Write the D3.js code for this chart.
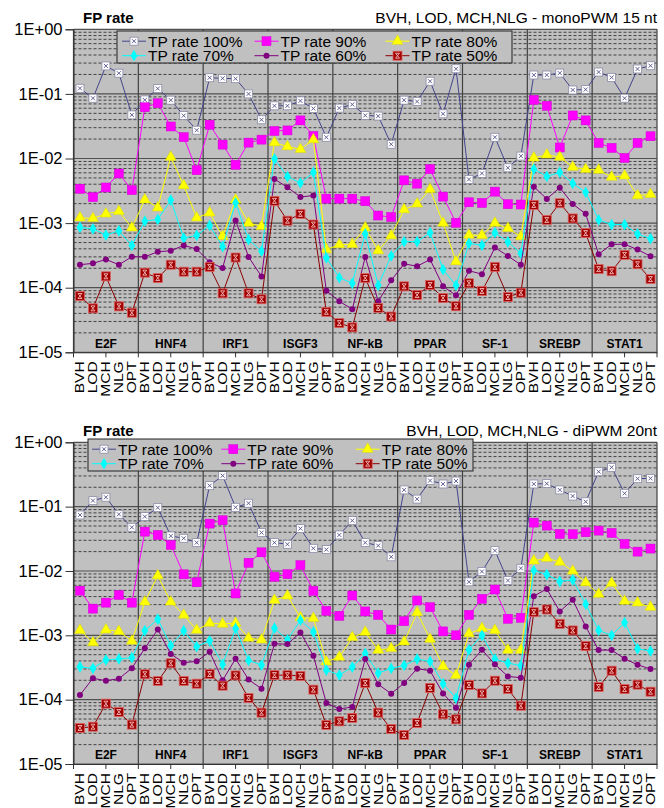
<!DOCTYPE html>
<html>
<head>
<meta charset="utf-8">
<script src="https://cdn.jsdelivr.net/npm/d3@7/dist/d3.min.js"></script>
<style>
body { margin: 0; background: #fff; }
text { font-family: "Liberation Sans", Arial, sans-serif; }
</style>
</head>
<body>
<div id="chart"></div>
<script>
// categories
const groups = ["E2F", "HNF4", "IRF1", "ISGF3", "NF-kB", "PPAR", "SF-1", "SREBP", "STAT1"];
const methods = ["BVH", "LOD", "MCH", "NLG", "OPT"];
const seriesNames = ["TP rate 100%", "TP rate 90%", "TP rate 80%", "TP rate 70%", "TP rate 60%", "TP rate 50%"];
const yTicks = [1, 1e-1, 1e-2, 1e-3, 1e-4, 1e-5];
const yTickLabels = ["1E+00", "1E-01", "1E-02", "1E-03", "1E-04", "1E-05"];
const titles = ["BVH, LOD, MCH,NLG - monoPWM 15 nt", "BVH, LOD, MCH,NLG - diPWM 20nt"];

// monoPWM 15 nt (top chart), 45 values per series (9 groups x 5 methods)
const mono100 = [0.122, 0.0857, 0.271, 0.209, 0.0473, 0.0807, 0.121, 0.080, 0.0462, 0.0274,
  0.178, 0.174, 0.172, 0.100, 0.0398, 0.0654, 0.0654, 0.078, 0.0594, 0.0213,
  0.0602, 0.0686, 0.0464, 0.0454, 0.0166, 0.080, 0.0762, 0.157, 0.0492, 0.245,
  0.00475, 0.00588, 0.0213, 0.00718, 0.0109, 0.196, 0.196, 0.210, 0.115, 0.117,
  0.218, 0.180, 0.0858, 0.243, 0.273];
const mono90 = [0.0034, 0.00252, 0.00356, 0.00586, 0.00324, 0.0622, 0.0717, 0.0313, 0.0214, 0.0066,
  0.0333, 0.0164, 0.008, 0.0176, 0.0196, 0.0267, 0.0272, 0.0389, 0.0223, 0.00239,
  0.00239, 0.00239, 0.00218, 0.00131, 0.00124, 0.00459, 0.00408, 0.00686, 0.00257, 0.00101,
  0.0021, 0.00205, 0.00307, 0.00196, 0.00194, 0.081, 0.0654, 0.0148, 0.0464, 0.0389,
  0.0174, 0.0146, 0.0102, 0.0174, 0.0221];
const mono80 = [0.00121, 0.00118, 0.00139, 0.00152, 0.000847, 0.0023, 0.00173, 0.0105, 0.00382, 0.00121,
  0.00144, 0.000624, 0.00229, 0.001, 0.00089, 0.0176, 0.0153, 0.0139, 0.0196, 0.000389,
  0.000464, 0.00047, 0.000848, 0.000375, 0.000638, 0.00162, 0.00198, 0.00334, 0.001, 0.000254,
  0.000654, 0.000645, 0.001, 0.000828, 0.000616, 0.0102, 0.0114, 0.0105, 0.00736, 0.00678,
  0.00662, 0.00516, 0.0054, 0.00267, 0.00279];
const mono70 = [0.000857, 0.000817, 0.000652, 0.00076, 0.000452, 0.00107, 0.00114, 0.00227, 0.000586, 0.000645,
  0.00092, 0.000432, 0.00206, 0.000554, 0.000367, 0.0099, 0.00522, 0.00418, 0.0061, 0.00029,
  0.000143, 0.000117, 0.000686, 0.000109, 0.00031, 0.000516, 0.000516, 0.00071, 0.000191, 0.000109,
  0.000487, 0.000453, 0.00071, 0.00051, 0.000341, 0.00686, 0.00528, 0.0061, 0.00412, 0.003,
  0.00112, 0.00095, 0.00095, 0.000678, 0.000574];
const mono60 = [0.000227, 0.000238, 0.000274, 0.000227, 0.000301, 0.000301, 0.00036, 0.000373, 0.000452, 0.000396,
  0.000248, 0.000201, 0.0011, 0.0003, 0.000149, 0.00481, 0.00358, 0.00254, 0.00267, 0.00009,
  0.0000616, 0.0000464, 0.0003, 0.0000616, 0.00013, 0.000234, 0.000215, 0.000273, 0.000105, 0.0000762,
  0.000183, 0.000162, 0.000418, 0.00031, 0.000226, 0.00366, 0.00237, 0.00354, 0.00198, 0.00139,
  0.00033, 0.00047, 0.00047, 0.000389, 0.000307];
const mono50 = [0.0000743, 0.0000479, 0.00015, 0.0000514, 0.000041, 0.000171, 0.000141, 0.000227, 0.000177, 0.000177,
  0.00021, 0.0000818, 0.000293, 0.0000818, 0.0000662, 0.00221, 0.00109, 0.00139, 0.00095, 0.0000423,
  0.0000283, 0.0000243, 0.000141, 0.0000486, 0.0000358, 0.000105, 0.000077, 0.00011, 0.0000693, 0.0000516,
  0.000117, 0.0000889, 0.00021, 0.0000718, 0.0000837, 0.00191, 0.00112, 0.00203, 0.00118, 0.0007,
  0.000194, 0.00018, 0.000322, 0.000231, 0.000136];

// diPWM 20nt (bottom chart)
const di100 = [0.0742, 0.124, 0.14, 0.076, 0.0477, 0.07, 0.0965, 0.035, 0.0322, 0.0276,
  0.212, 0.303, 0.0976, 0.113, 0.0395, 0.0276, 0.026, 0.0456, 0.0225, 0.0215,
  0.0363, 0.0607, 0.0276, 0.0248, 0.0166, 0.182, 0.131, 0.254, 0.225, 0.25,
  0.00678, 0.0098, 0.0207, 0.00711, 0.011, 0.225, 0.228, 0.182, 0.146, 0.119,
  0.349, 0.408, 0.161, 0.272, 0.275];
const di90 = [0.00494, 0.0026, 0.00322, 0.00424, 0.00322, 0.0409, 0.0363, 0.0254, 0.00887, 0.00667,
  0.0545, 0.0614, 0.00447, 0.0134, 0.0195, 0.00811, 0.00891, 0.0123, 0.00491, 0.0024,
  0.00201, 0.00416, 0.00235, 0.00208, 0.00123, 0.00166, 0.00348, 0.00274, 0.00115, 0.001,
  0.00208, 0.00369, 0.00515, 0.00181, 0.00187, 0.0565, 0.0507, 0.0377, 0.0373, 0.04,
  0.0424, 0.039, 0.0264, 0.02, 0.0223];
const di80 = [0.0012, 0.00077, 0.00122, 0.00115, 0.000817, 0.0033, 0.00846, 0.0033, 0.00207, 0.00121,
  0.00155, 0.0015, 0.00155, 0.000905, 0.000853, 0.00352, 0.00411, 0.00189, 0.00183, 0.000388,
  0.000459, 0.000927, 0.00112, 0.000589, 0.000625, 0.000794, 0.00226, 0.000873, 0.000329, 0.000238,
  0.00106, 0.00128, 0.0012, 0.000589, 0.000589, 0.0144, 0.0158, 0.0138, 0.01, 0.0066,
  0.00436, 0.00646, 0.0034, 0.0032, 0.00274];
const di70 = [0.000322, 0.000307, 0.000414, 0.000429, 0.00045, 0.00118, 0.00179, 0.00069, 0.00118, 0.000667,
  0.000822, 0.000353, 0.00128, 0.000407, 0.000345, 0.00129, 0.000853, 0.00172, 0.00113, 0.000288,
  0.000241, 0.000321, 0.000523, 0.000259, 0.000306, 0.00034, 0.000427, 0.000393, 0.000177, 0.000106,
  0.000596, 0.001, 0.000427, 0.000371, 0.000337, 0.0102, 0.0088, 0.00686, 0.00728, 0.00305,
  0.00119, 0.001, 0.00158, 0.000618, 0.00057];
const di60 = [0.000118, 0.000215, 0.000197, 0.000212, 0.000307, 0.000628, 0.00123, 0.000513, 0.000376, 0.000394,
  0.000555, 0.0002, 0.000432, 0.000205, 0.000148, 0.000739, 0.00073, 0.00111, 0.000481, 0.0000887,
  0.0000716, 0.0000769, 0.000427, 0.000173, 0.000124, 0.000181, 0.000303, 0.000282, 0.000125, 0.000075,
  0.000349, 0.000596, 0.000355, 0.00023, 0.000219, 0.00406, 0.00527, 0.00235, 0.00356, 0.00137,
  0.000589, 0.000589, 0.000432, 0.000349, 0.000299];
const di50 = [0.0000363, 0.000038, 0.0000867, 0.0000643, 0.0000409, 0.000248, 0.000195, 0.000367, 0.000195, 0.000177,
  0.00025, 0.000165, 0.000238, 0.000106, 0.0000628, 0.000241, 0.00024, 0.000234, 0.000143, 0.0000404,
  0.000046, 0.0000519, 0.000181, 0.0000628, 0.000035, 0.0000283, 0.0000434, 0.000152, 0.0000592, 0.0000494,
  0.000169, 0.000125, 0.000197, 0.000146, 0.0000805, 0.00229, 0.00252, 0.00151, 0.00119, 0.00068,
  0.000157, 0.000282, 0.000146, 0.000171, 0.000133];

const lineColors = ["#44448e", "#ff00ff", "#ffff00", "#00ffff", "#800080", "#8b0000"];
const markerKinds = ["xbox", "square", "triangle", "diamond", "dot", "redbox"];

const W = 664, H = 808;
const cats = [];
groups.forEach(g => methods.forEach(m => cats.push(g + "|" + m)));

const svg = d3.select("#chart").append("svg")
    .attr("width", W)
    .attr("height", H)
    .style("background", "#fff");

const x = d3.scaleBand().domain(cats).range([73.5, 657]);

function drawMarker(sel, kind, cx, cy) {
    const g = sel.append("g").attr("transform", "translate(" + cx + "," + cy + ")");
    if (kind === "xbox") {
        g.append("rect").attr("x", -4).attr("y", -4).attr("width", 8).attr("height", 8)
            .attr("fill", "#fff").attr("stroke", "#8a8aa8").attr("stroke-width", 0.8);
        g.append("path").attr("d", "M-2,-2L2,2M2,-2L-2,2")
            .attr("stroke", "#50508a").attr("stroke-width", 0.9);
    } else if (kind === "square") {
        g.append("rect").attr("x", -4.5).attr("y", -4.5).attr("width", 9).attr("height", 9)
            .attr("fill", "#ff00ff").attr("stroke", "#d000d0").attr("stroke-width", 0.5);
    } else if (kind === "triangle") {
        g.append("path").attr("d", d3.symbol().type(d3.symbolTriangle).size(52)())
            .attr("fill", "#ffff00").attr("stroke", "#d8d800").attr("stroke-width", 0.5);
    } else if (kind === "diamond") {
        g.append("path").attr("d", d3.symbol().type(d3.symbolDiamond).size(40)())
            .attr("fill", "#00ffff");
    } else if (kind === "dot") {
        g.append("circle").attr("r", 3).attr("fill", "#800080");
    } else {
        g.append("rect").attr("x", -4.5).attr("y", -4.5).attr("width", 9).attr("height", 9)
            .attr("fill", "#a00000").attr("stroke", "#e06060").attr("stroke-width", 0.8);
        g.append("path").attr("d", "M-2,-2.5L2,-2.5L-2,2.5L2,2.5Z")
            .attr("fill", "none").attr("stroke", "#ffd0d0").attr("stroke-width", 0.8);
    }
}

function panel(cfg) {
    const y = d3.scaleLog().domain([1e-5, 1]).range([cfg.bottom, cfg.top]);
    const x0 = x.range()[0], x1 = x.range()[1];
    const g = svg.append("g");

    // plot area
    g.append("rect").attr("x", x0).attr("y", cfg.top)
        .attr("width", x1 - x0).attr("height", cfg.bottom - cfg.top)
        .attr("fill", "#c0c0c0");

    // minor grid (2..9 per decade)
    const minor = y.ticks().filter(v => Math.abs(Math.log10(v) - Math.round(Math.log10(v))) > 1e-6);
    g.append("g").selectAll("line").data(minor).join("line")
        .attr("x1", x0).attr("x2", x1)
        .attr("y1", d => y(d)).attr("y2", d => y(d))
        .attr("stroke", "#333").attr("stroke-width", 0.9)
        .attr("stroke-dasharray", "3,2");

    // major grid
    g.append("g").selectAll("line").data(yTicks).join("line")
        .attr("x1", x0).attr("x2", x1)
        .attr("y1", d => y(d)).attr("y2", d => y(d))
        .attr("stroke", "#505050").attr("stroke-width", 1.2);

    // group separators
    const bounds = groups.map(gr => x(gr + "|" + methods[0])).concat([x1]);
    g.append("g").selectAll("line").data(bounds).join("line")
        .attr("x1", d => d).attr("x2", d => d)
        .attr("y1", cfg.top).attr("y2", cfg.bottom)
        .attr("stroke", "#404040").attr("stroke-width", 1.2);

    // group labels
    g.append("g").selectAll("text").data(groups).join("text")
        .attr("x", d => x(d + "|" + methods[2]) + x.bandwidth() / 2)
        .attr("y", cfg.bottom - 4.6)
        .attr("text-anchor", "middle")
        .attr("font-size", 12).attr("font-weight", "bold")
        .text(d => d);

    // axes
    const yAxis = d3.axisLeft(y).tickValues(yTicks)
        .tickFormat((d, i) => yTickLabels[i]).tickSize(8).tickPadding(3);
    const ya = g.append("g").attr("transform", "translate(" + x0 + ",0)").call(yAxis);
    ya.select(".domain").attr("stroke", "#333");
    ya.selectAll(".tick line").attr("stroke", "#333");
    ya.selectAll(".tick text").attr("font-size", 16.5).attr("fill", "#000")
        .attr("font-family", "'Liberation Sans', Arial, sans-serif");

    const xa = g.append("g").attr("transform", "translate(0," + cfg.bottom + ")")
        .call(d3.axisBottom(x).tickValues([]).tickSizeOuter(0));
    xa.select(".domain").attr("stroke", "#333");

    // ticks at group borders and group middles
    const tickPos = [];
    bounds.forEach((b, i) => { tickPos.push(b); if (i < groups.length) tickPos.push(b + x.step() * 2.5); });
    g.append("g").selectAll("line").data(tickPos).join("line")
        .attr("x1", d => d).attr("x2", d => d)
        .attr("y1", cfg.bottom).attr("y2", cfg.bottom + 5)
        .attr("stroke", "#333");

    // rotated category labels
    g.append("g").selectAll("text").data(cats).join("text")
        .attr("transform", d => "translate(" + (x(d) + x.bandwidth() / 2 + 4.5) + "," + (cfg.bottom + 9) + ") rotate(-90) scale(1.2,1)")
        .attr("text-anchor", "end")
        .attr("font-size", 13)
        .text(d => d.split("|")[1]);

    // series
    const line = d3.line().x((d, i) => x(cats[i]) + x.bandwidth() / 2).y(d => y(d));
    cfg.series.forEach((vals, s) => {
        g.append("path").datum(vals)
            .attr("d", line)
            .attr("fill", "none")
            .attr("stroke", lineColors[s])
            .attr("stroke-width", 1);
        const mg = g.append("g");
        vals.forEach((v, i) => drawMarker(mg, markerKinds[s], x(cats[i]) + x.bandwidth() / 2, y(v)));
    });

    // legend
    const lg = g.append("g").attr("transform", "translate(" + cfg.legX + "," + cfg.legY + ")");
    lg.append("rect").attr("width", cfg.legW).attr("height", 32)
        .attr("fill", "#c0c0c0").attr("stroke", "#222").attr("stroke-width", 1);
    seriesNames.forEach((name, s) => {
        const col = s % 3, row = Math.floor(s / 3);
        const tx = cfg.legCols[col], ty = row === 0 ? 15.5 : 30;
        const my = ty - 5.3;
        lg.append("line").attr("x1", tx - 26).attr("x2", tx - 2)
            .attr("y1", my).attr("y2", my)
            .attr("stroke", lineColors[s]).attr("stroke-width", 1);
        drawMarker(lg, markerKinds[s], tx - 14, my);
        lg.append("text").attr("x", tx).attr("y", ty)
            .attr("font-size", 15.5).text(name);
    });

    // titles
    g.append("text").attr("x", 83).attr("y", cfg.top - 6)
        .attr("font-size", 15).attr("font-weight", "bold").text("FP rate");
    g.append("text").attr("x", 657).attr("y", cfg.top - 6)
        .attr("text-anchor", "end").attr("font-size", 15.5).text(cfg.title);
}

panel({
    top: 29.3, bottom: 352.3, title: titles[0],
    series: [mono100, mono90, mono80, mono70, mono60, mono50],
    legX: 117, legY: 31, legW: 395, legCols: [31, 163.5, 294.5]
});
panel({
    top: 442.3, bottom: 764, title: titles[1],
    series: [di100, di90, di80, di70, di60, di50],
    legX: 88, legY: 439, legW: 385, legCols: [30, 159.3, 293.7]
});
</script>
</body>
</html>
